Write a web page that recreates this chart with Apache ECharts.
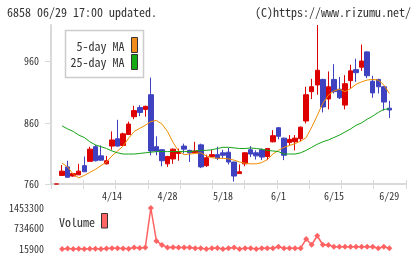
<!DOCTYPE html>
<html><head><meta charset="utf-8">
<script src="https://cdn.jsdelivr.net/npm/echarts@6/dist/echarts.min.js"></script>
<style>html,body{margin:0;padding:0;background:#fff}#c{width:420px;height:259px}</style>
</head><body><div id="c"></div>
<script>
const dates = ['3/31','4/1','4/2','4/3','4/6','4/7','4/8','4/9','4/10','4/13','4/14','4/15','4/16','4/17','4/20','4/21','4/22','4/23','4/24','4/27','4/28','4/30','5/1','5/7','5/8','5/11','5/12','5/13','5/14','5/15','5/18','5/19','5/20','5/21','5/22','5/25','5/26','5/27','5/28','5/29','6/1','6/2','6/3','6/4','6/5','6/8','6/9','6/10','6/11','6/12','6/15','6/16','6/17','6/18','6/19','6/22','6/23','6/24','6/25','6/26','6/29'];
const openP  = [760,774,788,773,775,790,797,821,806,793,822,834,823,841,870,885,882,906,821,816,793,801,810,822,815,811,824,790,805,808,811,812,796,777,793,816,811,816,805,829,852,835,828,829,834,863,911,922,931,899,931,915,889,929,947,951,976,928,931,919,884];
const closeP = [760,781,771,777,781,780,817,798,799,798,832,822,842,858,880,877,887,814,814,798,805,817,813,817,811,814,788,803,808,802,807,796,773,780,811,809,806,804,818,839,838,807,833,835,853,906,919,946,886,919,911,901,924,945,942,961,937,909,919,894,881];
const lowP   = [760,774,771,772,775,780,797,797,798,792,816,821,822,840,866,871,870,807,807,789,788,793,798,810,796,810,786,788,804,799,802,792,764,777,789,804,800,799,799,828,833,799,823,815,830,859,899,906,877,882,908,899,882,916,927,945,933,901,908,880,868];
const highP  = [760,791,798,778,793,805,821,824,823,806,846,865,844,862,888,889,888,934,838,817,806,818,818,826,816,829,826,808,816,821,816,819,796,792,812,822,815,818,819,848,853,836,840,840,854,919,932,1020,932,944,956,935,938,955,965,988,977,937,932,920,896];
const ma5  = [null,794,788,776,770,774,779,784,790,796,806,814,822,835,846,851,856,862,864,858,846,828,814,808,809,810,811,806,803,802,802,801,799,796,794,793,793,795,800,809,815,820,823,826,830,836,853,872,892,905,912,915,911,916,923,927,930,931,930,922,908];
const ma25 = [null,855,850,846,840,836,829,824,821,818,814,811,809,809,809,810,811,812,813,813,813,813,813,813,813,814,815,815,816,818,820,820,819,818,818,819,818,817,815,814,813,809,809,809,811,815,820,825,829,832,836,840,845,850,856,860,866,871,877,882,883];
const volume = [null,20000,35000,18000,22000,20000,24000,22000,20000,35000,38000,40000,36000,25000,70000,50000,72000,1453300,300000,160000,70000,75000,70000,72000,70000,40000,38000,20000,45000,48000,15900,46000,72000,18000,45000,44000,20000,44000,42000,45000,95000,46000,44000,45000,44000,365000,165000,480000,165000,160000,95000,96000,94000,95000,96000,97000,95000,94000,45000,95000,45000];
const priceTicks = [760,860,960];
const volTicks = [15900,734600,1453300];
const labelDates = ['4/14','4/28','5/18','6/1','6/15','6/29'];

const FONT = "'Noto Sans Mono CJK JP','DejaVu Sans Mono',monospace";
const UP = '#dd0000', DOWN = '#3e42c0';
const cats = [''].concat(dates, ['', '', '']);
const padL = (a, v) => [v].concat(a, [v, v, v]);
const candles = padL(dates.map((d, i) => {
  const v = [openP[i], closeP[i], lowP[i], highP[i]];
  if (openP[i] === closeP[i]) return {value: v, itemStyle: {color: UP, borderColor: UP, color0: UP, borderColor0: UP, borderColorDoji: UP}};
  return v;
}), ['-','-','-','-']);
const AX = '#d9d9d9';

const chart = echarts.init(document.getElementById('c'), null, {renderer: 'canvas'});
chart.setOption({
  animation: false,
  backgroundColor: '#fff',
  grid: [
    {left: 51, top: 25, width: 355, height: 159},
    {left: 51, top: 208, width: 355, height: 41}
  ],
  xAxis: [
    {type: 'category', gridIndex: 0, data: cats, boundaryGap: false,
     axisLine: {show: true, onZero: false, lineStyle: {color: AX, width: 2}},
     axisTick: {show: false}, splitLine: {show: false},
     axisLabel: {show: true, color: '#333', fontSize: 10, fontFamily: FONT, margin: 7,
       interval: (i, v) => labelDates.indexOf(v) >= 0 && i > 0}},
    {type: 'value', gridIndex: 0, min: 0, max: 11, interval: 1, position: 'bottom', offset: -4,
     axisLine: {show: false}, axisLabel: {show: false}, splitLine: {show: false},
     axisTick: {show: true, length: 9, lineStyle: {color: AX, width: 1}}},
    {type: 'category', gridIndex: 1, data: cats, boundaryGap: false, show: false}
  ],
  yAxis: [
    {type: 'value', gridIndex: 0, min: 760, max: 1020, interval: 100,
     axisLine: {show: true, onZero: false, lineStyle: {color: AX, width: 2}},
     axisTick: {show: true, length: 6, lineStyle: {color: AX}, customValues: priceTicks},
     axisLabel: {color: '#333', fontSize: 10, fontFamily: FONT, margin: 12, customValues: priceTicks,
       formatter: v => (priceTicks.indexOf(v) >= 0 ? String(v) : '')},
     splitLine: {show: false}},
    {type: 'value', gridIndex: 1, min: 15900, max: 1453300, interval: 718700,
     axisLine: {show: false}, axisTick: {show: false}, splitLine: {show: false},
     axisLabel: {color: '#333', fontSize: 10, fontFamily: FONT, margin: 7, customValues: volTicks,
       formatter: v => (volTicks.indexOf(v) >= 0 ? String(v) : '')}}
  ],
  series: [
    {type: 'candlestick', name: 'price', xAxisIndex: 0, yAxisIndex: 0, data: candles, barWidth: 5,
     itemStyle: {color: UP, color0: DOWN, borderColor: UP, borderColor0: DOWN, borderWidth: 1}},
    {type: 'line', name: '5-day MA', xAxisIndex: 0, yAxisIndex: 0, data: padL(ma5, null),
     symbol: 'none', lineStyle: {color: '#f08c00', width: 1}, z: 3},
    {type: 'line', name: '25-day MA', xAxisIndex: 0, yAxisIndex: 0, data: padL(ma25, null),
     symbol: 'none', lineStyle: {color: '#16a316', width: 1}, z: 3},
    {type: 'line', name: 'Volume', xAxisIndex: 2, yAxisIndex: 1, data: padL(volume, null),
     symbol: 'diamond', symbolSize: 6, showSymbol: true, showAllSymbol: true,
     lineStyle: {color: '#ff6262', width: 1.5}, itemStyle: {color: '#ff6262'}}
  ],
  graphic: [
    {type: 'text', left: 7, top: 6, style: {text: '6858 06/29 17:00 updated.', fill: '#333', font: '12px ' + FONT}},
    {type: 'text', right: 9, top: 6, style: {text: '(C)https://www.rizumu.net/', fill: '#333', font: '12px ' + FONT}},
    {type: 'rect', shape: {x: 65.5, y: 30.5, width: 78, height: 47}, style: {fill: '#fff', stroke: '#cccccc', lineWidth: 1.5}, z: 10},
    {type: 'text', x: 124.5, y: 46, z: 11, style: {text: '5-day MA', fill: '#333', font: '12px ' + FONT, align: 'right', verticalAlign: 'middle'}},
    {type: 'text', x: 124.5, y: 62.5, z: 11, style: {text: '25-day MA', fill: '#333', font: '12px ' + FONT, align: 'right', verticalAlign: 'middle'}},
    {type: 'rect', z: 11, shape: {x: 131.5, y: 37.5, width: 6, height: 15}, style: {fill: '#f08c1a', stroke: '#333', lineWidth: 1}},
    {type: 'rect', z: 11, shape: {x: 131.5, y: 54.5, width: 6, height: 15}, style: {fill: '#14aa14', stroke: '#333', lineWidth: 1}},
    {type: 'text', x: 59, y: 222, z: 11, style: {text: 'Volume', fill: '#333', font: '12px ' + FONT, align: 'left', verticalAlign: 'middle'}},
    {type: 'rect', z: 11, shape: {x: 101.5, y: 213.5, width: 6, height: 14.5}, style: {fill: '#ff6666', stroke: '#333', lineWidth: 1}}
  ]
});
</script></body></html>
